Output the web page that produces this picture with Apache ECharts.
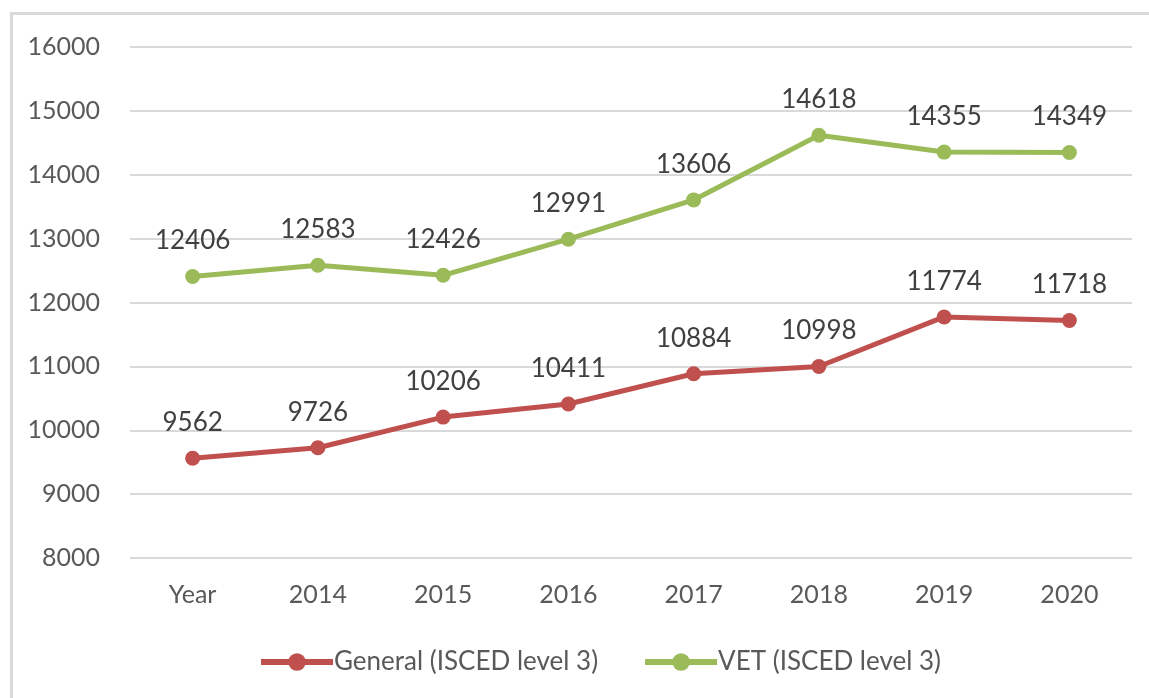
<!DOCTYPE html>
<html>
<head>
<meta charset="utf-8">
<script src="https://cdn.jsdelivr.net/npm/echarts@6/dist/echarts.min.js"></script>
<style>
html,body{margin:0;padding:0;background:#fff;}
#frame{position:absolute;left:10px;top:12px;width:1300px;height:900px;border:3px solid #d9d9d9;box-sizing:border-box;}
#chart{position:absolute;left:0;top:0;width:1149px;height:698px;}
</style>
</head>
<body>
<div id="frame"></div>
<div id="chart"></div>
<script>
const categories = ['Year','2014','2015','2016','2017','2018','2019','2020'];
const generalValues = [9562, 9726, 10206, 10411, 10884, 10998, 11774, 11718];
const vetValues = [12406, 12583, 12426, 12991, 13606, 14618, 14355, 14349];
const seriesNames = ['General (ISCED level 3)', 'VET (ISCED level 3)'];

const FONT = 'Lato';
const chart = echarts.init(document.getElementById('chart'), null, {renderer:'canvas'});
function mkSeries(name, data, color){
  return {
    name: name, type: 'line', data: data,
    symbol: 'circle', symbolSize: 15,
    itemStyle: {color: color},
    lineStyle: {color: color, width: 5},
    label: {show: true, position: 'top', distance: 15, color: '#404040', fontSize: 26, fontFamily: FONT},
    emphasis: {disabled: true},
    animation: false
  };
}
chart.setOption({
  animation: false,
  grid: {left: 130, right: 17, top: 47, bottom: 140, containLabel: false},
  legend: {
    bottom: 18, left: 253,
    itemWidth: 72, itemHeight: 22, itemGap: 44,
    lineStyle: {width: 6},
    textStyle: {color: '#595959', fontSize: 26, fontFamily: FONT, padding: [0,0,0,-4]},
    data: seriesNames
  },
  xAxis: {
    type: 'category', data: categories, boundaryGap: true,
    axisLine: {show: false}, axisTick: {show: false},
    axisLabel: {color: '#595959', fontSize: 25, fontFamily: FONT, margin: 24}
  },
  yAxis: {
    type: 'value', min: 8000, max: 16000, interval: 1000,
    axisLine: {show: false}, axisTick: {show: false},
    axisLabel: {color: '#595959', fontSize: 25, fontFamily: FONT, margin: 30, formatter: function(v){return String(v);}},
    splitLine: {lineStyle: {color: '#d9d9d9', width: 2}}
  },
  series: [
    mkSeries(seriesNames[0], generalValues, '#c0504d'),
    mkSeries(seriesNames[1], vetValues, '#9bbb59')
  ]
});
</script>
</body>
</html>
